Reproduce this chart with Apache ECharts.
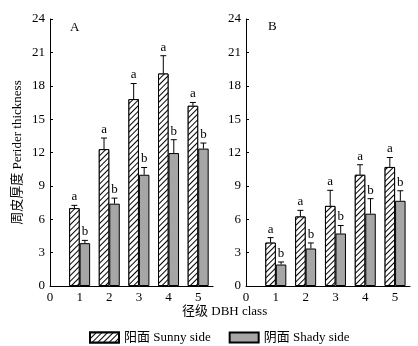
<!DOCTYPE html>
<html>
<head>
<meta charset="utf-8">
<script src="https://cdn.jsdelivr.net/npm/echarts@6/dist/echarts.min.js"></script>
<style>
  html, body { margin: 0; padding: 0; background: #fff; }
  #main { width: 418px; height: 346px; }
</style>
</head>
<body>
<div id="main"></div>
<script>
var classes = [1, 2, 3, 4, 5];

// panel A
var sunnyA = [7.0, 12.3, 16.8, 19.1, 16.2];
var sunnyErrA = [0.25, 1.0, 1.4, 1.6, 0.3];
var shadyA = [3.85, 7.4, 10.0, 11.95, 12.35];
var shadyErrA = [0.25, 0.5, 0.65, 1.2, 0.5];
// panel B
var sunnyB = [3.9, 6.25, 7.2, 10.0, 10.7];
var sunnyErrB = [0.45, 0.55, 1.4, 0.9, 0.85];
var shadyB = [1.93, 3.37, 4.72, 6.5, 7.66];
var shadyErrB = [0.23, 0.5, 0.72, 1.35, 0.9];

var lettersSunny = ['a', 'a', 'a', 'a', 'a'];
var lettersShady = ['b', 'b', 'b', 'b', 'b'];

var serif = '"Liberation Serif", "Times New Roman", "Noto Sans CJK SC", serif';
var barW = 10.5;

function pairs(vals) {
  return classes.map(function (c, i) { return [c, vals[i]]; });
}

function errSeries(idx, vals, errs, letters, side) {
  return {
    type: 'custom',
    xAxisIndex: idx,
    yAxisIndex: idx,
    z: 5,
    data: classes.map(function (c, i) { return [c, vals[i], vals[i] + errs[i]]; }),
    renderItem: function (params, api) {
      var base = api.coord([api.value(0), api.value(1)]);
      var top = api.coord([api.value(0), api.value(2)]);
      var x = base[0] + side * barW / 2;
      return {
        type: 'group',
        children: [
          { type: 'line', shape: { x1: x, y1: base[1], x2: x, y2: top[1] },
            style: { stroke: '#000', lineWidth: 1 } },
          { type: 'line', shape: { x1: x - 3, y1: top[1], x2: x + 3, y2: top[1] },
            style: { stroke: '#000', lineWidth: 1 } },
          { type: 'text', x: x, y: top[1] - 2,
            style: { text: letters[params.dataIndex], fill: '#000',
              font: '13px ' + serif, align: 'center', verticalAlign: 'bottom' } }
        ]
      };
    }
  };
}

var hatch = {
  color: '#000',
  backgroundColor: '#fff',
  symbol: 'rect',
  symbolSize: 1,
  dashArrayX: [1, 0],
  dashArrayY: [0.8, 2.8],
  rotation: -Math.PI / 4
};

function barSeries(idx, name, vals, sunny) {
  return {
    type: 'bar',
    name: name,
    xAxisIndex: idx,
    yAxisIndex: idx,
    barWidth: barW,
    barGap: '0%',
    data: pairs(vals),
    itemStyle: sunny
      ? { color: '#fff', borderColor: '#000', borderWidth: 1, decal: hatch }
      : { color: '#a6a6a6', borderColor: '#000', borderWidth: 1 }
  };
}

function xAxis(idx) {
  return {
    type: 'value', gridIndex: idx, min: 0, max: 5.5, interval: 1,
    axisLine: { lineStyle: { color: '#000', width: 1 } },
    axisTick: { show: false },
    splitLine: { show: false },
    axisLabel: { color: '#000', fontFamily: serif, fontSize: 13, margin: 5,
      formatter: function (v) { return Number.isInteger(v) ? v : ''; } }
  };
}

function yAxis(idx) {
  var ax = {
    type: 'value', gridIndex: idx, min: 0, max: 24, interval: 3,
    axisLine: { show: true, lineStyle: { color: '#000', width: 1 } },
    axisTick: { show: true, inside: true, length: 3, lineStyle: { color: '#000' } },
    splitLine: { show: false },
    axisLabel: { color: '#000', fontFamily: serif, fontSize: 13, margin: 5 }
  };
  if (idx === 0) {
    ax.name = '周皮厚度 Perider thickness';
    ax.nameLocation = 'middle';
    ax.nameGap = 26;
    ax.nameTextStyle = { color: '#000', fontFamily: serif, fontSize: 13 };
  }
  return ax;
}

var chart = echarts.init(document.getElementById('main'));
chart.setOption({
  animation: false,
  grid: [
    { left: 50, top: 19, width: 163, height: 267 },
    { left: 246, top: 19, width: 164, height: 267 }
  ],
  xAxis: [xAxis(0), xAxis(1)],
  yAxis: [yAxis(0), yAxis(1)],
  legend: {
    left: 84, top: 326, itemWidth: 29, itemHeight: 10, itemGap: 18,
    icon: 'rect',
    textStyle: { color: '#000', fontFamily: serif, fontSize: 13 },
    data: ['阳面 Sunny side', '阴面 Shady side']
  },
  graphic: [
    { type: 'text', left: 70, top: 21, style: { text: 'A', font: '13px ' + serif, fill: '#000' } },
    { type: 'text', left: 268, top: 20, style: { text: 'B', font: '13px ' + serif, fill: '#000' } },
    { type: 'text', left: 182, top: 305,
      style: { text: '径级 DBH class', font: '13px ' + serif, fill: '#000' } }
  ],
  series: [
    barSeries(0, '阳面 Sunny side', sunnyA, true),
    barSeries(0, '阴面 Shady side', shadyA, false),
    barSeries(1, '阳面 Sunny side', sunnyB, true),
    barSeries(1, '阴面 Shady side', shadyB, false),
    errSeries(0, sunnyA, sunnyErrA, lettersSunny, -1),
    errSeries(0, shadyA, shadyErrA, lettersShady, 1),
    errSeries(1, sunnyB, sunnyErrB, lettersSunny, -1),
    errSeries(1, shadyB, shadyErrB, lettersShady, 1)
  ]
});
</script>
</body>
</html>
